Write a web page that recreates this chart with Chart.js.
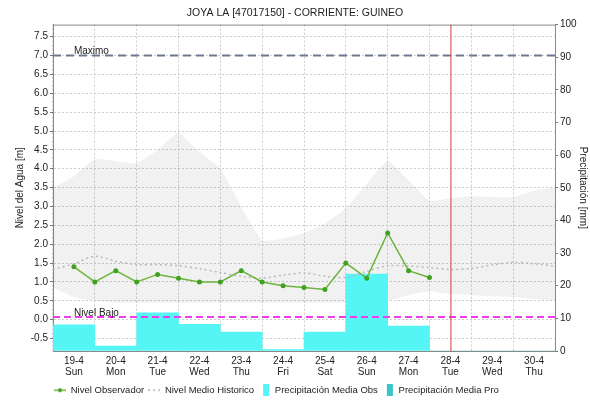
<!DOCTYPE html>
<html>
<head>
<meta charset="utf-8">
<script src="https://cdn.jsdelivr.net/npm/chart.js@4.4.1/dist/chart.umd.min.js"></script>
<style>
  html, body { margin: 0; padding: 0; background: #fff; }
</style>
</head>
<body>
<canvas id="graficoNivel" width="590" height="401"></canvas>
<script>
// Etiquetas del eje X (un dia por marca)
const fechas = ['19-4', '20-4', '21-4', '22-4', '23-4', '24-4', '25-4', '26-4', '27-4', '28-4', '29-4', '30-4'];
const dias = ['Sun', 'Mon', 'Tue', 'Wed', 'Thu', 'Fri', 'Sat', 'Sun', 'Mon', 'Tue', 'Wed', 'Thu'];

// Nivel observado cada 12 horas desde el 19-4 (m)
const nivelObservado = [1.4, 1.0, 1.3, 1.0, 1.2, 1.1, 1.0, 1.0, 1.3, 1.0, 0.9, 0.85, 0.8, 1.5, 1.1, 2.3, 1.3, 1.12];

// Historico cada 12 horas, desde medio dia antes del 19-4 hasta medio dia despues del 30-4 (m)
const nivelMedioHistorico = [1.33, 1.48, 1.68, 1.55, 1.46, 1.46, 1.43, 1.35, 1.25, 1.15, 1.1, 1.18, 1.24,
                             1.15, 1.12, 1.28, 1.43, 1.42, 1.38, 1.33, 1.36, 1.45, 1.52, 1.48, 1.42];
const nivelMaxHistorico = [3.5, 3.8, 4.25, 4.2, 4.15, 4.5, 4.95, 4.45, 4.0, 3.0, 2.1, 2.15, 2.3,
                           2.55, 2.95, 3.6, 4.2, 3.7, 3.15, 3.22, 3.27, 3.25, 3.25, 3.42, 3.5];
const nivelMinHistorico = [0.85, 0.6, 0.5, 0.45, 0.45, 0.45, 0.45, 0.45, 0.45, 0.45, 0.45, 0.45, 0.45,
                           0.45, 0.45, 0.45, 0.5, 0.65, 0.75, 0.68, 0.65, 0.62, 0.6, 0.55, 0.5];

// Precipitacion diaria (mm)
const precipitacionObs = [8.0, 1.5, 11.7, 8.2, 5.8, 0.4, 5.8, 23.6, 7.6];
const precipitacionPro = [0, 0, 0];

// Umbrales y dia actual
const nivelMaximo = 7.0;
const nivelBajo = 0.07;
const diaActual = 9;

const marcasNivel = [-0.5, 0, 0.5, 1, 1.5, 2, 2.5, 3, 3.5, 4, 4.5, 5, 5.5, 6, 6.5, 7, 7.5];
const leyenda = ['Nivel Observador', 'Nivel Medio Historico', 'Precipitación Media Obs', 'Precipitación Media Pro'];

const fuente = 'Liberation Sans, Arial, sans-serif';

// Puntos con posicion temporal (en dias)
const cada12h = (valores, inicio) => valores.map((v, i) => ({ x: inicio + i / 2, y: v }));
const porDia = (valores, inicio) => valores.map((v, i) => ({ x: inicio + i, y: v }));

// Simbolos de la leyenda
function simbolo(dibujar) {
    const c = document.createElement('canvas');
    c.width = 12;
    c.height = 12;
    dibujar(c.getContext('2d'));
    return c;
}
const simbolos = [
    simbolo(ctx => {
        ctx.strokeStyle = '#6db33f'; ctx.lineWidth = 1.5;
        ctx.beginPath(); ctx.moveTo(0, 6); ctx.lineTo(12, 6); ctx.stroke();
        ctx.fillStyle = '#3fa21f'; ctx.beginPath(); ctx.arc(6, 6, 2, 0, Math.PI * 2); ctx.fill();
    }),
    simbolo(ctx => {
        ctx.strokeStyle = '#b0b0b0'; ctx.lineWidth = 1.5; ctx.setLineDash([2, 3]);
        ctx.beginPath(); ctx.moveTo(0, 6); ctx.lineTo(12, 6); ctx.stroke();
    }),
    simbolo(ctx => { ctx.fillStyle = '#55f5f5'; ctx.fillRect(5, 0, 6, 12); }),
    simbolo(ctx => { ctx.fillStyle = '#38c6c6'; ctx.fillRect(5, 0, 6, 12); })
];

// Lineas de referencia, textos y linea del dia actual
const referencias = {
    id: 'referencias',
    afterLayout(chart) {
        // bajar y mover la leyenda como en el original
        chart.legend.top += 4;
        chart.legend.bottom += 4;
        chart.legend.left += 50;
        chart.legend.right += 50;
    },
    afterDatasetsDraw(chart) {
        const { ctx, chartArea: a, scales } = chart;
        const yMax = scales.y.getPixelForValue(nivelMaximo);
        const yBajo = scales.y.getPixelForValue(nivelBajo);
        const xHoy = scales.x.getPixelForValue(diaActual);
        ctx.save();
        ctx.lineWidth = 2;
        ctx.setLineDash([8, 5]);
        ctx.strokeStyle = '#6e7891';
        ctx.beginPath(); ctx.moveTo(a.left, yMax); ctx.lineTo(a.right, yMax); ctx.stroke();
        ctx.setLineDash([7, 4]);
        ctx.strokeStyle = '#ee3bee';
        ctx.beginPath(); ctx.moveTo(a.left, yBajo); ctx.lineTo(a.right, yBajo); ctx.stroke();
        ctx.setLineDash([]);
        ctx.lineWidth = 1;
        ctx.strokeStyle = '#d23c3c';
        ctx.beginPath(); ctx.moveTo(xHoy + 0.5, a.top); ctx.lineTo(xHoy + 0.5, a.bottom); ctx.stroke();
        ctx.strokeStyle = '#888';
        ctx.beginPath(); ctx.moveTo(a.left, a.top + 0.5); ctx.lineTo(a.right, a.top + 0.5); ctx.stroke();
        ctx.fillStyle = '#222';
        ctx.font = '10px ' + fuente;
        ctx.textBaseline = 'alphabetic';
        const x0 = scales.x.getPixelForValue(0);
        ctx.fillText('Maximo', x0, yMax - 1.5);
        ctx.fillText('Nivel Bajo', x0, yBajo - 1.5);
        ctx.restore();
    }
};

const ctx = document.getElementById('graficoNivel').getContext('2d');
new Chart(ctx, {
    type: 'line',
    data: {
        datasets: [{
            label: leyenda[0],
            data: cada12h(nivelObservado, 0),
            borderColor: '#6db33f',
            borderWidth: 1.5,
            pointRadius: 2.5,
            pointBorderWidth: 0,
            pointBackgroundColor: '#3fa21f',
            yAxisID: 'y',
            order: 1
        }, {
            label: leyenda[1],
            data: cada12h(nivelMedioHistorico, -0.5),
            borderColor: '#b8b8b8',
            borderWidth: 1.5,
            borderDash: [2, 3],
            pointRadius: 0,
            tension: 0.3,
            yAxisID: 'y',
            order: 3
        }, {
            type: 'bar',
            label: leyenda[2],
            data: porDia(precipitacionObs, 0),
            backgroundColor: '#55f5f5',
            barPercentage: 1,
            categoryPercentage: 1,
            grouped: false,
            yAxisID: 'y2',
            order: 4
        }, {
            type: 'bar',
            label: leyenda[3],
            data: porDia(precipitacionPro, 9),
            backgroundColor: '#38c6c6',
            barPercentage: 1,
            categoryPercentage: 1,
            grouped: false,
            yAxisID: 'y2',
            order: 4
        }, {
            label: 'max',
            data: cada12h(nivelMaxHistorico, -0.5),
            borderWidth: 0,
            pointRadius: 0,
            tension: 0.15,
            fill: '+1',
            backgroundColor: 'rgba(0, 0, 0, 0.055)',
            yAxisID: 'y',
            order: 10
        }, {
            label: 'min',
            data: cada12h(nivelMinHistorico, -0.5),
            borderWidth: 0,
            pointRadius: 0,
            tension: 0.15,
            yAxisID: 'y',
            order: 10
        }]
    },
    options: {
        responsive: false,
        animation: false,
        layout: { padding: 0 },
        plugins: {
            title: {
                display: true,
                text: 'JOYA LA [47017150] - CORRIENTE: GUINEO',
                color: '#222',
                font: { family: fuente, size: 10.5, weight: 'normal' },
                padding: { top: 7, bottom: 5 }
            },
            legend: {
                position: 'bottom',
                align: 'start',
                labels: {
                    usePointStyle: true,
                    pointStyleWidth: 12,
                    padding: 4,
                    color: '#222',
                    font: { family: fuente, size: 9.5 },
                    generateLabels: () => leyenda.map((texto, i) => ({
                        text: texto,
                        pointStyle: simbolos[i],
                        datasetIndex: i,
                        hidden: false,
                        fillStyle: 'transparent',
                        strokeStyle: 'transparent',
                        lineWidth: 0,
                        fontColor: '#222'
                    }))
                }
            },
            tooltip: { enabled: false }
        },
        scales: {
            x: {
                type: 'linear',
                min: -0.5,
                max: 11.5,
                offset: false,
                afterBuildTicks: s => { s.ticks = fechas.map((_, i) => ({ value: i })); },
                afterFit: s => { s.height = 26.5; },
                ticks: {
                    autoSkip: false,
                    maxRotation: 0,
                    padding: 5,
                    color: '#222',
                    font: { family: fuente, size: 10, lineHeight: 1.1 },
                    callback: v => [fechas[v], dias[v]]
                },
                grid: { color: '#cdcdcd', drawTicks: false },
                border: { color: '#888', dash: [2, 2] }
            },
            y: {
                position: 'left',
                min: -0.83,
                max: 7.82,
                afterBuildTicks: s => { s.ticks = marcasNivel.map(v => ({ value: v })); },
                afterFit: s => { s.width = 53; },
                ticks: {
                    padding: 2,
                    color: '#222',
                    font: { family: fuente, size: 10 },
                    callback: v => v.toFixed(1)
                },
                grid: { color: '#cdcdcd', tickColor: '#777', tickLength: 3 },
                border: { color: '#888', dash: [2, 2] },
                title: {
                    display: true,
                    text: 'Nivel del Agua [m]',
                    color: '#222',
                    font: { family: fuente, size: 10 },
                    padding: { top: 14, bottom: 0 }
                }
            },
            y2: {
                position: 'right',
                min: 0,
                max: 100,
                afterFit: s => { s.width = 35; },
                ticks: {
                    stepSize: 10,
                    padding: 2,
                    color: '#222',
                    font: { family: fuente, size: 10 }
                },
                grid: { drawOnChartArea: false, tickColor: '#777', tickLength: 3 },
                border: { color: '#888' },
                title: {
                    display: true,
                    text: 'Precipitación [mm]',
                    color: '#222',
                    font: { family: fuente, size: 10 },
                    padding: { top: 1, bottom: 0 }
                }
            }
        }
    },
    plugins: [referencias]
});
</script>
</body>
</html>
